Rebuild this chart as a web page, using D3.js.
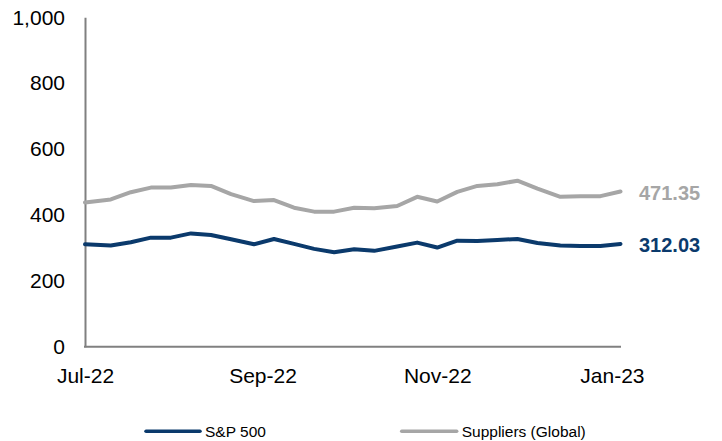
<!DOCTYPE html>
<html>
<head>
<meta charset="utf-8">
<script src="https://cdn.jsdelivr.net/npm/d3@7"></script>
<style>
  html, body { margin: 0; padding: 0; background: #fff; }
  svg { display: block; font-family: "Liberation Sans", Arial, sans-serif; }
</style>
</head>
<body>
<svg id="chart" width="722" height="441"></svg>
<script>
// Weekly index levels, Jul 2022 – Jan 2023
const dates = ["2022-07-01","2022-07-10","2022-07-17","2022-07-24","2022-07-31","2022-08-07","2022-08-14",
  "2022-08-21","2022-08-29","2022-09-05","2022-09-12","2022-09-19","2022-09-26","2022-10-03","2022-10-10",
  "2022-10-18","2022-10-25","2022-11-01","2022-11-08","2022-11-15","2022-11-22","2022-11-29","2022-12-06",
  "2022-12-14","2022-12-21","2022-12-28","2023-01-04"];
const sp500 = [311, 307, 317, 331, 331, 344, 339, 326, 311, 327, 312, 297, 287, 296, 291, 304, 316, 301,
  322, 321, 324, 327, 315, 307, 306, 306, 312.03];
const suppliers = [438, 447, 469, 483, 483, 491, 488, 463, 442, 445, 422, 410, 410, 422, 420, 427, 455, 441,
  470, 488, 493, 504, 480, 455, 457, 457, 471.35];
const seriesNames = ["S&P 500", "Suppliers (Global)"];
const seriesColors = ["#0B3A6C", "#A6A6A6"];
const yTicks = [0, 200, 400, 600, 800, 1000];
const xTickDates = ["2022-07-01", "2022-09-01", "2022-11-01", "2023-01-01"];
const xTickLabels = ["Jul-22", "Sep-22", "Nov-22", "Jan-23"];

const parse = d3.utcParse("%Y-%m-%d");
const svg = d3.select("#chart");
const plotLeft = 85, plotRight = 621, plotTop = 17.3, plotBottom = 346.7;

const x = d3.scaleUtc()
  .domain([parse(dates[0]), parse(dates[dates.length - 1])])
  .range([plotLeft, 620.5]);
const y = d3.scaleLinear().domain([0, 1000]).range([plotBottom, plotTop]);

// Axes
const axisColor = "#808080";
const yAxis = svg.append("g")
  .attr("transform", `translate(${plotLeft},0)`)
  .call(d3.axisLeft(y).tickValues(yTicks).tickFormat(d3.format(",")).tickSize(0).tickSizeOuter(0).tickPadding(20));
yAxis.select(".domain").attr("stroke", axisColor).attr("stroke-width", 2);
yAxis.selectAll("text").attr("font-size", 21).attr("fill", "#000").attr("font-family", "Liberation Sans, Arial, sans-serif");

const xAxis = svg.append("g")
  .attr("transform", `translate(0,${plotBottom})`)
  .call(d3.axisBottom(x)
    .tickValues(xTickDates.map(parse))
    .tickFormat((d, i) => xTickLabels[i])
    .tickSize(0).tickSizeOuter(0).tickPadding(21));
xAxis.select(".domain").attr("stroke", axisColor).attr("stroke-width", 2)
  .attr("d", `M${plotLeft - 1},0H${plotRight}`);
xAxis.selectAll("text").attr("font-size", 21).attr("fill", "#000").attr("font-family", "Liberation Sans, Arial, sans-serif");

// Lines
const series = [
  { name: seriesNames[1], color: seriesColors[1], values: suppliers },
  { name: seriesNames[0], color: seriesColors[0], values: sp500 }
].map(s => ({ ...s, values: s.values.map((v, i) => ({ date: parse(dates[i]), value: v })) }));

const line = d3.line().x(d => x(d.date)).y(d => y(d.value));

svg.append("g").selectAll("path")
  .data(series)
  .join("path")
  .attr("d", d => line(d.values))
  .attr("fill", "none")
  .attr("stroke", d => d.color)
  .attr("stroke-width", 4)
  .attr("stroke-linejoin", "round")
  .attr("stroke-linecap", "round");

// End-value labels
svg.append("g").selectAll("text")
  .data(series)
  .join("text")
  .attr("x", d => x(d.values[d.values.length - 1].date) + 18.5)
  .attr("y", d => y(d.values[d.values.length - 1].value) + 1.5)
  .attr("dy", "0.35em")
  .attr("font-size", 20)
  .attr("font-weight", "bold")
  .attr("fill", d => d.color)
  .text(d => d3.format(".2f")(d.values[d.values.length - 1].value));

// Legend
const legendItems = [
  { name: seriesNames[0], color: seriesColors[0], x0: 146, x1: 200 },
  { name: seriesNames[1], color: seriesColors[1], x0: 401.7, x1: 456.7 }
];
const legend = svg.append("g").attr("transform", "translate(0,431.3)");
legend.selectAll("line")
  .data(legendItems)
  .join("line")
  .attr("x1", d => d.x0).attr("x2", d => d.x1)
  .attr("y1", 0).attr("y2", 0)
  .attr("stroke", d => d.color)
  .attr("stroke-width", 3.5)
  .attr("stroke-linecap", "round");
legend.selectAll("text")
  .data(legendItems)
  .join("text")
  .attr("x", d => d.x1 + 5)
  .attr("y", 0)
  .attr("dy", "0.36em")
  .attr("font-size", 15.5)
  .attr("fill", "#000")
  .text(d => d.name);
</script>
</body>
</html>
